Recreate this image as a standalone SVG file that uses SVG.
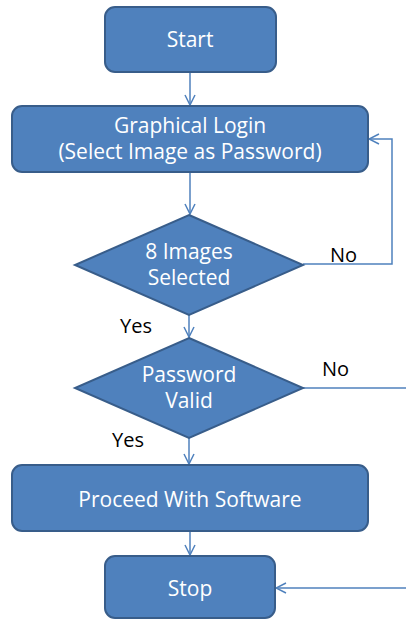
<svg xmlns="http://www.w3.org/2000/svg" width="406" height="620" viewBox="0 0 406 620">
<defs>
<style>
.box{fill:#4F81BD;stroke:#385D8A;stroke-width:2}
.t{font-family:"Open Sans","Liberation Sans",Arial,sans-serif;font-size:21px;fill:#FFFFFF;text-anchor:middle}
.lbl{font-family:"Open Sans","Liberation Sans",Arial,sans-serif;font-size:20px;fill:#000000}
.c{fill:none;stroke:#4F81BD;stroke-width:1.5}
</style>
<marker id="ah" viewBox="0 0 12 12" refX="11" refY="6" markerWidth="12" markerHeight="12" markerUnits="userSpaceOnUse" orient="auto">
<polyline points="1,1 11,6 1,11" fill="none" stroke="#4F81BD" stroke-width="1.5"/>
</marker>
</defs>
<rect width="406" height="620" fill="#FFFFFF"/>
<g id="connectors">
<line class="c" x1="190" y1="72" x2="190" y2="105" marker-end="url(#ah)"/>
<line class="c" x1="190" y1="172" x2="190" y2="214" marker-end="url(#ah)"/>
<line class="c" x1="189" y1="315" x2="189" y2="337" marker-end="url(#ah)"/>
<line class="c" x1="189" y1="438" x2="189" y2="464" marker-end="url(#ah)"/>
<line class="c" x1="190" y1="531" x2="190" y2="555" marker-end="url(#ah)"/>
<polyline class="c" points="303,264 392,264 392,139 369,139" marker-end="url(#ah)"/>
<line class="c" x1="303" y1="388" x2="406" y2="388"/>
<line class="c" x1="406" y1="588" x2="276" y2="588" marker-end="url(#ah)"/>
<text class="lbl" x="330" y="262">No</text>
<text class="lbl" x="120" y="333">Yes</text>
<text class="lbl" x="322" y="376">No</text>
<text class="lbl" x="112" y="447">Yes</text>
</g>
<g id="start">
<rect class="box" x="105" y="7" width="171" height="65" rx="10"/>
<text class="t" x="190" y="47">Start</text>
</g>
<g id="login">
<rect class="box" x="12" y="106" width="356" height="66" rx="10"/>
<text class="t" x="190" y="133">Graphical Login</text>
<text class="t" x="190" y="159">(Select Image as Password)</text>
</g>
<g id="images-selected">
<polygon class="box" points="189,215 303,265 189,315 75,265"/>
<text class="t" x="189" y="259">8 Images</text>
<text class="t" x="189" y="285">Selected</text>
</g>
<g id="password-valid">
<polygon class="box" points="189,338 303,388 189,438 75,388"/>
<text class="t" x="189" y="382">Password</text>
<text class="t" x="189" y="408">Valid</text>
</g>
<g id="proceed">
<rect class="box" x="12" y="465" width="356" height="66" rx="10"/>
<text class="t" x="190" y="507">Proceed With Software</text>
</g>
<g id="stop">
<rect class="box" x="105" y="556" width="170" height="62" rx="10"/>
<text class="t" x="190" y="596">Stop</text>
</g>
</svg>
